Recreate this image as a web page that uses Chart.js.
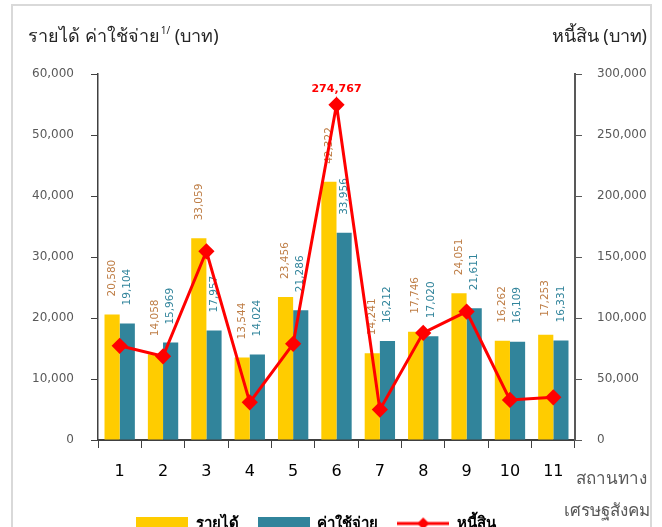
<!DOCTYPE html>
<html>
<head>
<meta charset="utf-8">
<script src="https://cdn.jsdelivr.net/npm/chart.js@4.4.1/dist/chart.umd.min.js"></script>
<style>
  html, body { margin: 0; padding: 0; background: #fff; overflow: hidden; }
  #frame { position: absolute; left: 11px; top: 4px; width: 637px; height: 600px; border: 2px solid #d9d9d9; }
  #wrap { position: absolute; left: 0; top: 0; width: 662px; height: 546px; }
</style>
</head>
<body>
<div id="frame"></div>
<div id="wrap"><canvas id="chart"></canvas></div>
<script>
const categories = ['1', '2', '3', '4', '5', '6', '7', '8', '9', '10', '11'];
const income  = [20580, 14058, 33059, 13544, 23456, 42322, 14241, 17746, 24051, 16262, 17253];
const expense = [19104, 15969, 17957, 14024, 21286, 33956, 16212, 17020, 21611, 16109, 16331];
const debt    = [77200, 68600, 154700, 30900, 78800, 274767, 24900, 87800, 105300, 32800, 35000];
const debtLabelIndex = 5; // only the peak is labelled

const seriesNames = ['รายได้', 'ค่าใช้จ่าย', 'หนี้สิน'];
const leftTitle = 'รายได้ ค่าใช้จ่าย';
const leftTitleSup = '1/';
const leftTitleUnit = ' (บาท)';
const rightTitle = 'หนี้สิน (บาท)';
const xTitle = ['สถานทาง', 'เศรษฐสังคม'];

const YELLOW = '#FFCC00';
const TEAL = '#31849B';
const RED = '#FF0000';
const NUM_FONT = '"DejaVu Sans", "Liberation Sans", sans-serif';
const THAI_FONT = '"Noto Sans", "DejaVu Sans", sans-serif';

const fmt = v => v.toLocaleString('en-US');

// legend swatches
function swatch(color) {
  const c = document.createElement('canvas');
  c.width = 52; c.height = 14;
  const g = c.getContext('2d');
  g.fillStyle = color;
  g.fillRect(0, 0, 52, 14);
  return c;
}
function lineSwatch() {
  const c = document.createElement('canvas');
  c.width = 52; c.height = 14;
  const g = c.getContext('2d');
  g.strokeStyle = RED; g.lineWidth = 3;
  g.beginPath(); g.moveTo(0, 7); g.lineTo(52, 7); g.stroke();
  g.fillStyle = RED;
  g.beginPath(); g.moveTo(26, 1); g.lineTo(32, 7); g.lineTo(26, 13); g.lineTo(20, 7); g.closePath(); g.fill();
  return c;
}
const legendIcons = [swatch(YELLOW), swatch(TEAL), lineSwatch()];

const extras = {
  id: 'extras',
  afterLayout(chart) {
    // legend sits a little left of centre in the original
    chart.legend.right -= 30;
  },
  beforeDatasetsDraw(chart) {
    const ctx = chart.ctx;
    ctx.save();
    ctx.font = '10.5px ' + NUM_FONT;
    ctx.textAlign = 'left';
    ctx.textBaseline = 'middle';
    [[0, '#BE7D45'], [1, TEAL]].forEach(([di, color]) => {
      const meta = chart.getDatasetMeta(di);
      ctx.fillStyle = color;
      meta.data.forEach((bar, i) => {
        ctx.save();
        ctx.translate(bar.x, bar.y - 18);
        ctx.rotate(-Math.PI / 2);
        ctx.fillText(fmt(chart.data.datasets[di].data[i]), 0, 0);
        ctx.restore();
      });
    });
    ctx.restore();
  },
  afterDatasetsDraw(chart) {
    const ctx = chart.ctx;
    ctx.save();
    const pt = chart.getDatasetMeta(2).data[debtLabelIndex];
    ctx.font = 'bold 11px ' + NUM_FONT;
    ctx.fillStyle = RED;
    ctx.textAlign = 'center';
    ctx.textBaseline = 'middle';
    ctx.fillText(fmt(debt[debtLabelIndex]), pt.x, pt.y - 16);

    // axis titles
    ctx.fillStyle = '#262626';
    ctx.textBaseline = 'alphabetic';
    ctx.textAlign = 'left';
    ctx.font = '18px ' + THAI_FONT;
    let x = 28;
    ctx.fillText(leftTitle, x, 42);
    x += ctx.measureText(leftTitle).width + 1;
    ctx.font = '10px ' + THAI_FONT;
    ctx.fillText(leftTitleSup, x, 34);
    x += ctx.measureText(leftTitleSup).width;
    ctx.font = '18px ' + THAI_FONT;
    ctx.fillText(leftTitleUnit, x, 42);
    ctx.textAlign = 'right';
    ctx.fillText(rightTitle, 647, 42);

    ctx.fillStyle = '#595959';
    ctx.font = '17px ' + THAI_FONT;
    ctx.textAlign = 'right';
    ctx.fillText(xTitle[0], 647, 484);
    ctx.fillText(xTitle[1], 650, 516);
    ctx.restore();
  }
};

new Chart(document.getElementById('chart'), {
  type: 'bar',
  data: {
    labels: categories,
    datasets: [
      {
        label: seriesNames[0],
        data: income,
        backgroundColor: YELLOW,
        borderWidth: 0,
        yAxisID: 'y',
        order: 1,
        categoryPercentage: 0.7,
        barPercentage: 1.0,
      },
      {
        label: seriesNames[1],
        data: expense,
        backgroundColor: TEAL,
        borderWidth: 0,
        yAxisID: 'y',
        order: 1,
        categoryPercentage: 0.7,
        barPercentage: 1.0,
      },
      {
        type: 'line',
        label: seriesNames[2],
        data: debt,
        borderColor: RED,
        backgroundColor: RED,
        borderWidth: 3,
        pointStyle: 'rectRot',
        pointRadius: 6,
        pointHoverRadius: 6,
        tension: 0,
        yAxisID: 'y2',
        order: 0,
      },
    ],
  },
  options: {
    responsive: true,
    maintainAspectRatio: false,
    animation: false,
    layout: {
      padding: { top: 74, left: 0, right: 0, bottom: 5 }
    },
    plugins: {
      tooltip: { enabled: false },
      legend: {
        position: 'bottom',
        labels: {
          usePointStyle: true,
          pointStyleWidth: 52,
          boxHeight: 14,
          padding: 19,
          color: '#000',
          font: { family: THAI_FONT, size: 15, weight: 'bold' },
          sort: (a, b) => a.datasetIndex - b.datasetIndex,
          generateLabels: chart => chart.data.datasets.map((ds, i) => ({
            text: ds.label,
            pointStyle: legendIcons[i],
            fillStyle: 'transparent',
            strokeStyle: 'transparent',
            lineWidth: 0,
            datasetIndex: i,
            fontColor: '#000',
          })),
        },
      },
    },
    scales: {
      x: {
        offset: true,
        grid: { drawOnChartArea: false, offset: true, tickLength: 8, color: '#404040' },
        border: { color: '#404040', width: 2 },
        ticks: { color: '#000', font: { family: NUM_FONT, size: 16 }, padding: 14 },
        afterFit: s => { s.height = 57; },
      },
      y: {
        position: 'left',
        min: 0,
        max: 60000,
        ticks: {
          stepSize: 10000,
          color: '#595959',
          font: { family: NUM_FONT, size: 12 },
          padding: 17,
          callback: v => fmt(v),
        },
        grid: { drawOnChartArea: false, tickLength: 7, color: '#404040' },
        border: { color: '#404040', width: 1.5 },
        afterFit: s => { s.width = 98; },
      },
      y2: {
        position: 'right',
        min: 0,
        max: 300000,
        ticks: {
          stepSize: 50000,
          color: '#595959',
          font: { family: NUM_FONT, size: 12 },
          padding: 15,
          callback: v => fmt(v),
        },
        grid: { drawOnChartArea: false, tickLength: 7, color: '#595959' },
        border: { color: '#595959', width: 2 },
        afterFit: s => { s.width = 87; },
      },
    },
  },
  plugins: [extras],
});
</script>
</body>
</html>
